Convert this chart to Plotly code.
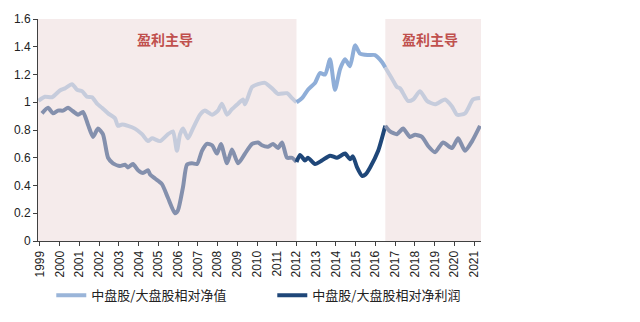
import plotly.graph_objects as go

# ---- data ----
years_nav = [1998.92, 1999.25, 1999.61, 2000.01, 2000.27, 2000.62, 2000.88, 2001.13, 2001.38, 2001.64,
             2001.89, 2002.14, 2002.45, 2002.80, 2002.95, 2003.16, 2003.46, 2003.81, 2004.17, 2004.47,
             2004.68, 2005.08, 2005.49, 2005.74, 2005.94, 2006.10, 2006.25, 2006.50, 2006.75, 2007.11,
             2007.36, 2007.72, 2008.02, 2008.22, 2008.48, 2008.73, 2009.04, 2009.29, 2009.39, 2009.75,
             2010.05, 2010.40, 2010.76, 2011.06, 2011.52, 2011.77, 2012.00, 2012.28, 2012.58, 2012.94,
             2013.19, 2013.45, 2013.70, 2013.95, 2014.21, 2014.46, 2014.71, 2014.97, 2015.22, 2015.62,
             2015.98, 2016.33, 2016.50, 2016.84, 2017.09, 2017.25, 2017.65, 2017.91, 2018.26, 2018.61,
             2019.02, 2019.53, 2019.88, 2020.14, 2020.54, 2020.95, 2021.30]
vals_nav = [1.01, 1.04, 1.036, 1.085, 1.10, 1.13, 1.09, 1.08, 1.04, 1.036,
            0.99, 0.96, 0.92, 0.885, 0.83, 0.84, 0.83, 0.81, 0.77, 0.72,
            0.74, 0.72, 0.77, 0.79, 0.65, 0.77, 0.81, 0.74, 0.81, 0.91,
            0.94, 0.91, 0.94, 0.99, 0.91, 0.95, 0.99, 1.02, 0.985, 1.11,
            1.13, 1.14, 1.10, 1.06, 1.065, 1.03, 1.00, 1.03, 1.09, 1.14,
            1.21, 1.20, 1.31, 1.09, 1.24, 1.31, 1.26, 1.41, 1.35, 1.34,
            1.34, 1.29, 1.25, 1.17, 1.11, 1.10, 1.01, 1.02, 1.08, 1.01,
            0.985, 1.02, 0.97, 0.91, 0.92, 1.02, 1.03]

years_np = [1999.10, 1999.41, 1999.66, 1999.91, 2000.17, 2000.42, 2000.67, 2000.93, 2001.18, 2001.43,
            2001.69, 2001.94, 2002.19, 2002.45, 2002.70, 2003.05, 2003.31, 2003.46, 2003.71, 2003.97,
            2004.22, 2004.47, 2004.58, 2004.83, 2005.18, 2005.49, 2005.84, 2005.99, 2006.25, 2006.45,
            2006.70, 2006.96, 2007.21, 2007.46, 2007.72, 2007.97, 2008.17, 2008.48, 2008.73, 2009.04,
            2009.39, 2009.75, 2010.05, 2010.25, 2010.56, 2010.81, 2011.06, 2011.27, 2011.52, 2011.77,
            2012.00, 2012.18, 2012.43, 2012.58, 2012.94, 2013.29, 2013.70, 2014.05, 2014.46, 2014.71,
            2014.86, 2015.07, 2015.32, 2015.50, 2015.73, 2016.14, 2016.50, 2016.74, 2017.09, 2017.40,
            2017.75, 2018.01, 2018.36, 2018.67, 2019.02, 2019.43, 2019.88, 2020.19, 2020.54, 2020.90,
            2021.30]
vals_np = [0.92, 0.96, 0.92, 0.94, 0.94, 0.96, 0.935, 0.91, 0.93, 0.84,
           0.75, 0.81, 0.77, 0.60, 0.56, 0.54, 0.55, 0.53, 0.555, 0.51,
           0.49, 0.51, 0.48, 0.45, 0.41, 0.31, 0.20, 0.22, 0.39, 0.55,
           0.56, 0.555, 0.65, 0.70, 0.69, 0.63, 0.70, 0.56, 0.66, 0.56,
           0.63, 0.70, 0.71, 0.69, 0.68, 0.70, 0.67, 0.71, 0.60, 0.60,
           0.57, 0.62, 0.58, 0.60, 0.555, 0.58, 0.615, 0.60, 0.63, 0.59,
           0.61, 0.53, 0.47, 0.48, 0.53, 0.65, 0.83, 0.79, 0.77, 0.81,
           0.75, 0.765, 0.75, 0.685, 0.64, 0.71, 0.67, 0.74, 0.65, 0.72,
           0.83]

year_ticks = list(range(1999, 2022))
y_ticks = [0, 0.2, 0.4, 0.6, 0.8, 1.0, 1.2, 1.4, 1.6]
y_ticktext = ["0", "0.2", "0.4", "0.6", "0.8", "1", "1.2", "1.4", "1.6"]

name_nav = "中盘股/大盘股相对净值"
name_np = "中盘股/大盘股相对净利润"
label_shade = "盈利主导"
label_x = [2005.35, 2018.77]

# regimes: (start, end, shaded)
X_MIN, X_MAX = 1998.9, 2021.35
regimes = [(X_MIN, 2012.0, True), (2012.0, 2016.5, False), (2016.5, X_MAX, True)]

COL_NAV_SHADE = "#C6CCDC"
COL_NAV_MID = "#8FAED8"
COL_NP_SHADE = "#8490AD"
COL_NP_MID = "#1F4779"
SHADE = "#F5EBEB"
RED = "#C0504D"
FONT = "Liberation Sans, Arial, Noto Sans CJK SC, sans-serif"


def segment(xs, ys, lo, hi):
    px, py = [], []
    for x, y in zip(xs, ys):
        if lo - 1e-9 <= x <= hi + 1e-9:
            px.append(x)
            py.append(y)
    return px, py


fig = go.Figure()

for lo, hi, shaded in regimes:
    xs, ys = segment(years_nav, vals_nav, lo, hi)
    fig.add_trace(go.Scatter(
        x=xs, y=ys, mode="lines",
        line=dict(color=COL_NAV_SHADE if shaded else COL_NAV_MID, width=4, shape="spline", smoothing=0.6),
        name=name_nav, showlegend=False, hoverinfo="skip"))
for lo, hi, shaded in regimes:
    xs, ys = segment(years_np, vals_np, lo, hi)
    fig.add_trace(go.Scatter(
        x=xs, y=ys, mode="lines",
        line=dict(color=COL_NP_SHADE if shaded else COL_NP_MID, width=4, shape="spline", smoothing=0.6),
        name=name_np, showlegend=False, hoverinfo="skip"))

# legend-only traces
fig.add_trace(go.Scatter(x=[None], y=[None], mode="lines", name=name_nav,
                         line=dict(color="#9AB5D9", width=4)))
fig.add_trace(go.Scatter(x=[None], y=[None], mode="lines", name=name_np,
                         line=dict(color=COL_NP_MID, width=4)))

i = 0
for lo, hi, shaded in regimes:
    if shaded:
        fig.add_shape(type="rect", xref="x", yref="y", x0=lo, x1=hi, y0=0, y1=1.6,
                      fillcolor=SHADE, line=dict(width=0), layer="below")
        fig.add_annotation(x=label_x[i], y=1.455, xref="x", yref="y",
                           text="<b>%s</b>" % label_shade, showarrow=False,
                           font=dict(family="Noto Sans CJK SC", size=14, color=RED))
        i += 1

fig.update_layout(
    width=640, height=322,
    margin=dict(l=38, r=159, t=17, b=81),
    paper_bgcolor="white", plot_bgcolor="white",
    font=dict(family=FONT, size=12, color="#222"),
    showlegend=True,
    legend=dict(orientation="h", x=0.03, xanchor="left", y=-0.245, yanchor="middle",
                font=dict(family="Noto Sans CJK SC", size=13, color="#222"),
                entrywidth=176, bgcolor="rgba(0,0,0,0)", traceorder="normal"),
)
fig.update_xaxes(range=[X_MIN, X_MAX], tickvals=year_ticks, ticktext=[str(y) for y in year_ticks],
                 tickangle=-90, ticks="outside", ticklen=4, tickcolor="#404040",
                 showline=True, linecolor="#404040", linewidth=1, showgrid=False, zeroline=False,
                 tickfont=dict(size=12, color="#222"))
fig.update_yaxes(range=[0, 1.6], tickvals=y_ticks, ticktext=y_ticktext,
                 ticks="outside", ticklen=4, tickcolor="#404040",
                 showline=True, linecolor="#404040", linewidth=1, showgrid=False, zeroline=False,
                 tickfont=dict(size=12, color="#222"))

fig.write_html("out.html")
